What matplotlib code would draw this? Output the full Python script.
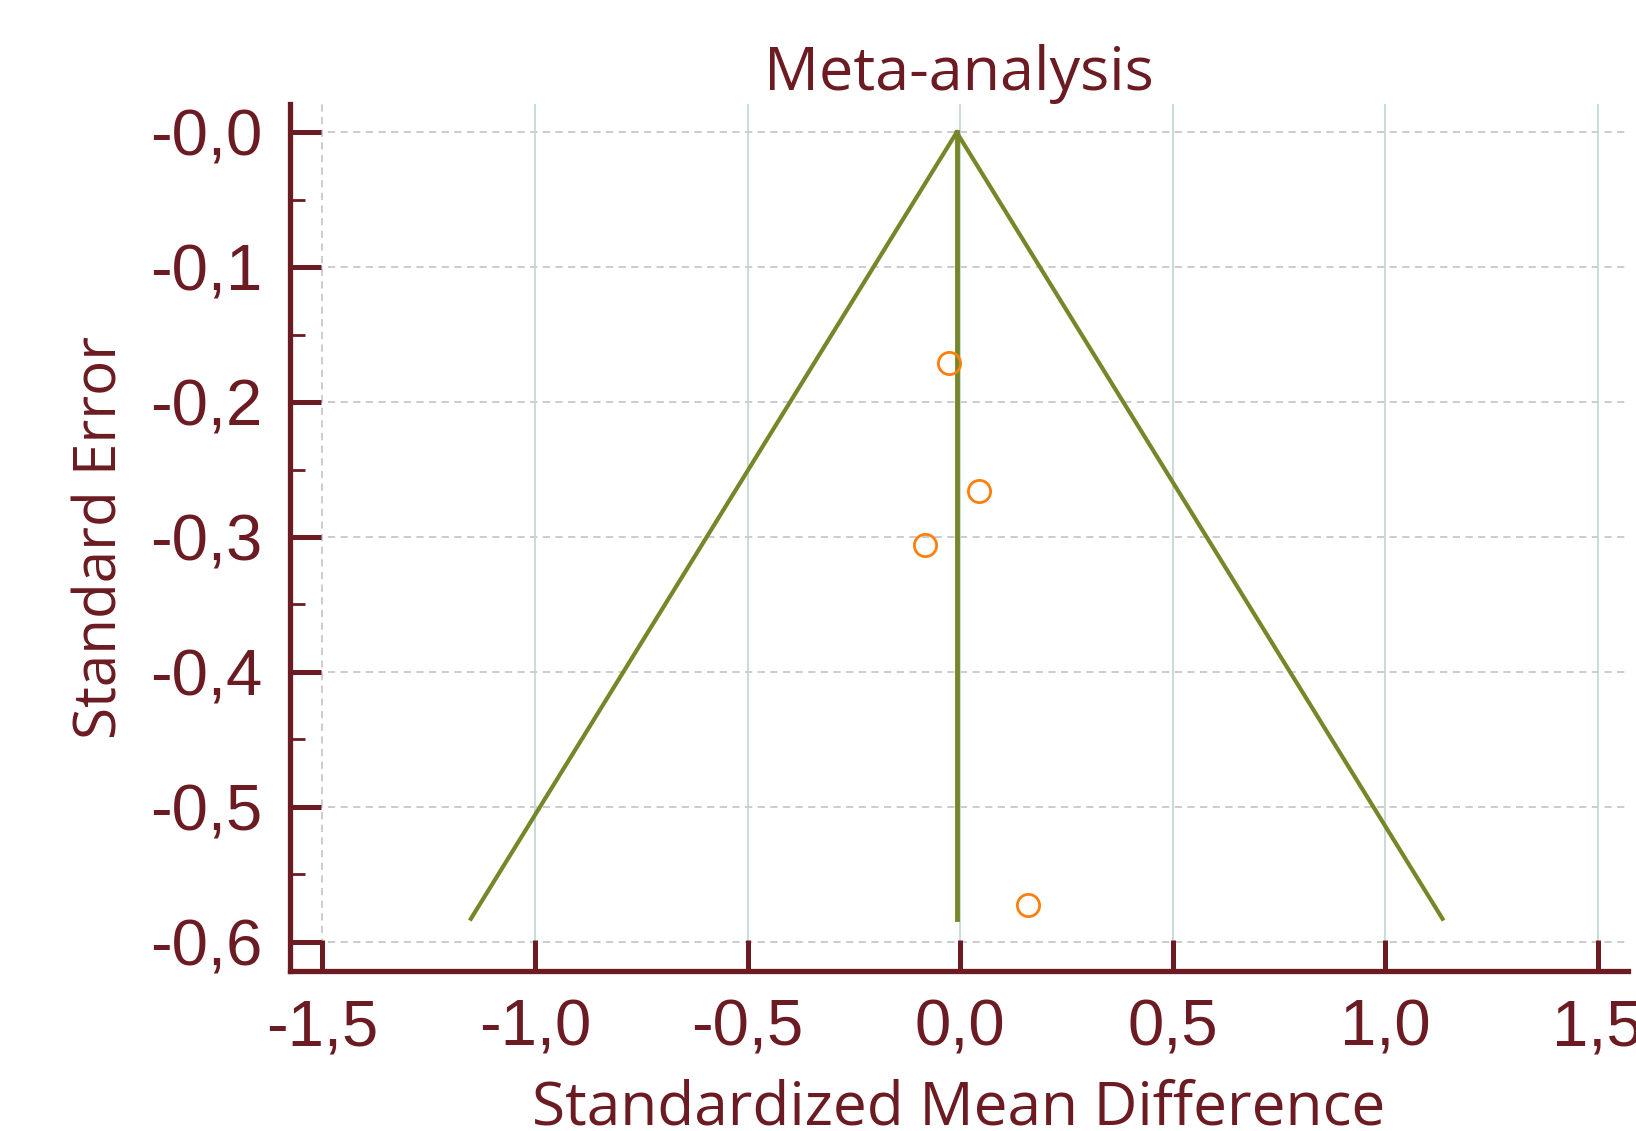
import matplotlib
matplotlib.use("Agg")
import matplotlib.pyplot as plt
from matplotlib.ticker import FuncFormatter, MultipleLocator
import numpy as np

# study effects (standardized mean difference) and standard errors
smd = [-0.027, 0.044, -0.083, 0.160]
se = [0.171, 0.266, 0.306, 0.573]

pooled = -0.008
se_max = 0.583

x_ticks = [-1.5, -1.0, -0.5, 0.0, 0.5, 1.0, 1.5]
y_ticks = [0.0, -0.1, -0.2, -0.3, -0.4, -0.5, -0.6]

dark = "#6b1b21"
olive = "#76872a"
orange = "#ff7f0e"

fig = plt.figure(figsize=(16.36, 11.31), dpi=100)
ax = fig.add_axes([0.1773, 0.1415, 0.8178, 0.7665])

# gridlines
for yv in y_ticks:
    ax.axhline(yv, color="#c8c8c8", lw=1.3, ls=(0, (4, 3)), zorder=0)
for xv in x_ticks:
    if xv == -1.5:
        ax.axvline(xv, color="#c8c8c8", lw=1.3, ls=(0, (4, 3)), zorder=0)
    else:
        ax.axvline(xv, color="#c3d9d4", lw=1.3, zorder=0)

# funnel (pseudo 95% limits)
se_line = np.array([0.0, se_max])
ax.plot(pooled - 1.96 * se_line, -se_line, color=olive, lw=3, zorder=2)
ax.plot(pooled + 1.96 * se_line, -se_line, color=olive, lw=3, zorder=2)
ax.plot([pooled, pooled], [0, -se_max], color=olive, lw=3.5, zorder=2)

ax.plot(smd, -np.array(se), "o", mfc="none", mec=orange, mew=2, ms=16, zorder=3)

ax.set_xlim(-1.576, 1.571)
ax.set_ylim(-0.6217, 0.021)

for s in ["top", "right"]:
    ax.spines[s].set_visible(False)
for s in ["left", "bottom"]:
    ax.spines[s].set_color(dark)
    ax.spines[s].set_linewidth(3.8)

ax.set_xticks(x_ticks)
ax.set_yticks(y_ticks)
ax.yaxis.set_minor_locator(MultipleLocator(0.05))
fmt = FuncFormatter(lambda v, p: f"{v:.1f}".replace(".", ","))
ax.xaxis.set_major_formatter(fmt)
ax.yaxis.set_major_formatter(FuncFormatter(lambda v, p: "-" + f"{abs(v):.1f}".replace(".", ",")))

ax.tick_params(axis="both", which="major", direction="in", length=22, width=3.6,
               color=dark, labelcolor=dark, labelsize=47)
ax.tick_params(axis="y", which="minor", direction="in", length=11, width=2, color=dark)
ax.tick_params(axis="y", which="major", pad=20)
ax.tick_params(axis="x", which="major", pad=20)
for lab in ax.get_xticklabels() + ax.get_yticklabels():
    lab.set_fontfamily("Liberation Sans")

ax.set_title("Meta-analysis", fontsize=44, color=dark, family="Open Sans", pad=6)
ax.set_xlabel("Standardized Mean Difference", fontsize=43.5, color=dark, family="Open Sans", labelpad=14)
ax.set_ylabel("Standard Error", fontsize=42, color=dark, family="Open Sans", labelpad=14)

fig.savefig("out.png", dpi=100)
